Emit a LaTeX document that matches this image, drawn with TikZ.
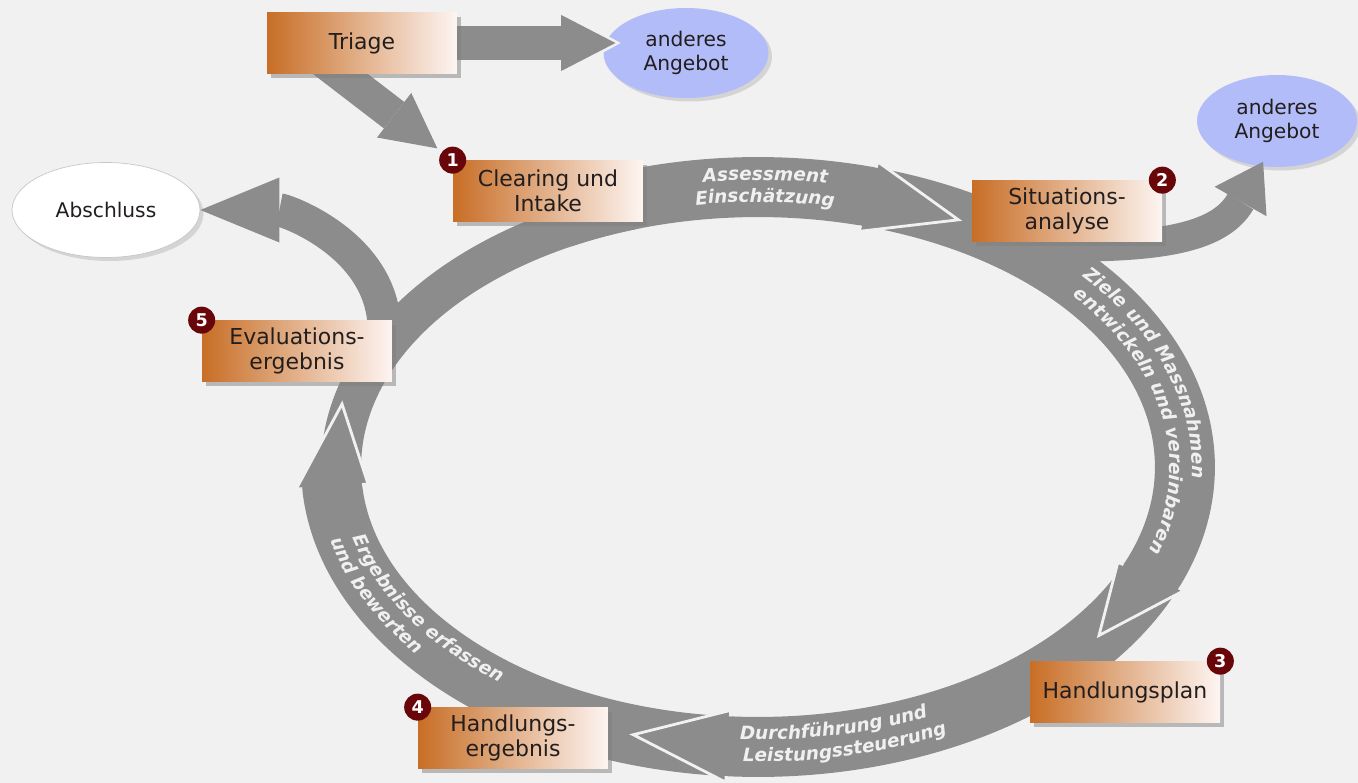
\documentclass[tikz,border=0pt]{standalone}
\usepackage{fontspec}
\setmainfont{DejaVu Sans}
\usepackage{tikz}
\usetikzlibrary{arrows.meta,shapes.geometric,shadows,calc,decorations.text}
\definecolor{paper}{RGB}{241,241,241}
\definecolor{bandgray}{RGB}{140,140,140}
\definecolor{bandwhite}{RGB}{240,240,240}
\definecolor{rust}{RGB}{200,110,38}
\definecolor{salmon}{RGB}{232,168,138}
\definecolor{blush}{RGB}{253,245,242}
\definecolor{maroon}{RGB}{104,6,10}
\definecolor{lilac}{RGB}{178,188,248}
\definecolor{ink}{RGB}{35,30,30}
\pgfdeclarelayer{front}
\pgfsetlayers{main,front}
\tikzset{
  box/.style={left color=rust,middle color=salmon,right color=blush,
    minimum width=3.8cm,minimum height=1.22cm,inner sep=2pt,align=center,text=ink,
    font=\fontsize{12.5}{14.5}\selectfont,
    drop shadow={shadow xshift=2.5pt,shadow yshift=-2.5pt,opacity=0.5}},
  offer/.style={ellipse,fill=#1,inner sep=0pt,align=center,text=ink,
    font=\fontsize{11.5}{13.5}\selectfont,
    drop shadow={shadow xshift=2pt,shadow yshift=-2pt,opacity=0.25}},
  offer/.default=lilac,
  badge/.style={circle,fill=maroon,text=white,inner sep=0pt,minimum size=5.4mm,
    font=\fontsize{10}{10}\selectfont\bfseries},
  fat/.style={draw=bandgray,line width=19pt,-{Triangle[length=31pt,width=32pt,line width=0pt]}},
  curl/.style={draw=bandgray,line width=19pt},
  band text/.style={decorate,decoration={text along path,text align=center,
    text color=bandwhite,text={|\fontsize{10.5}{10.5}\selectfont\bfseries\itshape|#1}}},
  % ring pieces, angles on the ellipse round (ctr)
  pics/ring seg/.style args={#1/#2/#3}{code={
    \path[pic actions] (#1:9.14cm and 6.20cm)
      arc[start angle=#1,end angle=#2,x radius=9.14cm,y radius=6.20cm]
      -- (#2:9.26cm and 6.32cm) -- (#3:8.54cm and 5.60cm) -- (#2:7.82cm and 4.88cm)
      -- (#2:7.94cm and 5.00cm)
      arc[start angle=#2,end angle=#1,x radius=7.94cm,y radius=5.00cm] -- cycle;
    \draw[paper,line width=1.6pt] (#2:9.14cm and 6.20cm) -- (#2:9.26cm and 6.32cm)
      -- (#3:8.54cm and 5.60cm) -- (#2:7.82cm and 4.88cm) -- (#2:7.94cm and 5.00cm);
  }},
  pics/ring band/.style args={#1/#2}{code={
    \path[pic actions] (#1:8.74cm and 5.80cm)
      arc[start angle=#1,end angle=#2,x radius=8.74cm,y radius=5.80cm]
      -- (#2:7.94cm and 5.00cm)
      arc[start angle=#2,end angle=#1,x radius=7.94cm,y radius=5.00cm] -- cycle;
  }},
}

\begin{document}
\begin{tikzpicture}[x=0.02cm,y=-0.02cm]
  \useasboundingbox (0,0) rectangle (1358,783);
  \fill[paper] (-10,-10) rectangle (1368,793);
  \coordinate (ctr) at (758,467);
  \begin{pgfonlayer}{front}
    \node[box] (triage) at (362,43) {Triage};
    \node[box] (clearing) at (548,191) {Clearing und\\Intake};
    \node[box] (sit) at (1067,211) {Situations-\\analyse};
    \node[box] (plan) at (1125,692) {Handlungsplan};
    \node[box] (result) at (513,738) {Handlungs-\\ergebnis};
    \node[box] (eval) at (297,351) {Evaluations-\\ergebnis};
    \foreach \n/\corner in {1/clearing.north west,2/sit.north east,3/plan.north east,
      4/result.north west,5/eval.north west}
      \node[badge] (b\n) at (\corner) {\n};
  \end{pgfonlayer}
  \node[offer,minimum width=3.3cm,minimum height=1.8cm] (ang1) at (686,53) {anderes\\Angebot};
  \node[offer,minimum width=3.2cm,minimum height=1.84cm] (ang2) at (1277,121) {anderes\\Angebot};
  \node[offer=white,draw=black!22,minimum width=3.76cm,minimum height=1.9cm] (abschluss) at (106,210) {Abschluss};

  \pic[fill=bandgray] at (ctr) {ring band=183/108};
  \draw[curl,-{Triangle[length=45pt,width=37pt,line width=0pt]}]
    ($(eval.north east)+(-8,10)$) .. controls +(0,-85) and +(85,0) .. (abschluss.east);
  \foreach \s/\h/\p in {265/184/167,-24/-94/-107,74/-23/-37,118/75/62}
    \pic[fill=bandgray] at (ctr) {ring seg=\s/\h/\p};
  \draw[curl,line width=17pt,-{Triangle[length=26pt,width=34pt,line width=0pt]},shorten >=-3pt]
    ($(sit.south)+(-5,5)$) .. controls +(90,0) and +(-42,74) .. (ang2.250);
  \draw[fat,draw=paper,shorten >=-10pt,-{Triangle[length=37pt,width=40pt,line width=0pt]}]
    (triage.center) -- (triage.center -| ang1.west);
  \draw[fat,shorten >=-7pt] (triage.center) -- (triage.center -| ang1.west);
  \draw[fat,shorten >=11pt] ($(triage.center)+(-62,0)$) -- (clearing.north west);

  \path[band text=Assessment] ($(ctr)+(109:8.68cm and 5.74cm)$)
    arc[start angle=109,end angle=69,x radius=8.68cm,y radius=5.74cm];
  \path[band text=Einschätzung] ($(ctr)+(109:8.24cm and 5.30cm)$)
    arc[start angle=109,end angle=69,x radius=8.24cm,y radius=5.30cm];
  \path[band text=Ziele und Massnahmen] ($(ctr)+(54:8.68cm and 5.74cm)$)
    arc[start angle=54,end angle=-18,x radius=8.68cm,y radius=5.74cm];
  \path[band text=entwickeln und vereinbaren] ($(ctr)+(50:8.24cm and 5.30cm)$)
    arc[start angle=50,end angle=-30,x radius=8.24cm,y radius=5.30cm];
  \path[band text=Durchführung und] ($(ctr)+(259:8.40cm and 5.46cm)$)
    arc[start angle=259,end angle=303,x radius=8.40cm,y radius=5.46cm];
  \path[band text=Leistungssteuerung] ($(ctr)+(260:8.84cm and 5.90cm)$)
    arc[start angle=260,end angle=304,x radius=8.84cm,y radius=5.90cm];
  \path[band text=Ergebnisse erfassen] ($(ctr)+(174:8.40cm and 5.46cm)$)
    arc[start angle=174,end angle=247,x radius=8.40cm,y radius=5.46cm];
  \path[band text=und bewerten] ($(ctr)+(176:8.84cm and 5.90cm)$)
    arc[start angle=176,end angle=234,x radius=8.84cm,y radius=5.90cm];
\end{tikzpicture}
\end{document}
